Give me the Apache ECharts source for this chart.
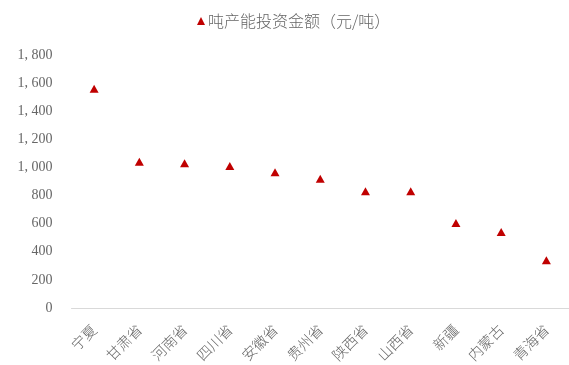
<!DOCTYPE html>
<html><head><meta charset="utf-8">
<script src="https://cdn.jsdelivr.net/npm/echarts@6/dist/echarts.min.js"></script>
<style>html,body{margin:0;padding:0;background:#fff}#c{width:569px;height:365px}</style>
</head><body><div id="c"></div>
<script>
const categories = ['宁夏','甘肃省','河南省','四川省','安徽省','贵州省','陕西省','山西省','新疆','内蒙古','青海省'];
const values = [1560, 1040, 1030, 1010, 965, 920, 830, 830, 605, 540, 340];
const seriesName = '吨产能投资金额（元/吨）';
const yTicks = [0, 200, 400, 600, 800, 1000, 1200, 1400, 1600, 1800];

const chart = echarts.init(document.getElementById('c'), null, {renderer:'canvas'});
const txt = '#666666';
const font = '"Liberation Serif","Noto Sans CJK SC",serif';
const cjk = '"Noto Sans CJK SC",serif';
chart.setOption({
  animation: false,
  textStyle: {fontFamily: font},
  legend: {
    top: 8, left: 192,
    itemWidth: 8, itemHeight: 8, itemGap: 2,
    data: [{name: seriesName, icon: 'triangle'}],
    itemStyle: {color: '#C00000', opacity: 1},
    textStyle: {color: txt, fontSize: 16, fontWeight: 300, fontFamily: cjk, padding:[0,0,0,-2]}
  },
  grid: {left: 71.5, width: 502, top: 55, bottom: 57},
  xAxis: {
    type: 'category', data: categories,
    axisLine: {lineStyle: {color: '#d9d9d9', width: 1}},
    axisTick: {show: false},
    axisLabel: {rotate: 45, color: txt, fontSize: 14.5, fontWeight: 300, margin: 19, interval: 0, fontFamily: cjk}
  },
  yAxis: {
    type: 'value', min: yTicks[0], max: yTicks[yTicks.length-1], interval: 200,
    splitLine: {show: false}, axisLine: {show: false}, axisTick: {show: false},
    axisLabel: {color: txt, fontSize: 14, margin: 19, fontFamily: font,
      formatter: v => v >= 1000 ? Math.floor(v/1000) + ', ' + String(v%1000).padStart(3,'0') : String(v)}
  },
  series: [{
    name: seriesName, type: 'scatter', data: values,
    symbol: 'triangle', symbolSize: [9, 8],
    itemStyle: {color: '#C00000', opacity: 1}
  }]
});
</script></body></html>
